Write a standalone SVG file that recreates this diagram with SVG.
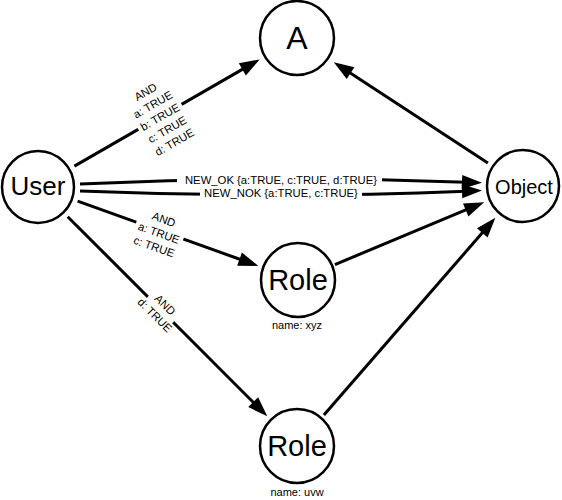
<svg xmlns="http://www.w3.org/2000/svg" width="562" height="500" viewBox="0 0 562 500">
<style>
  text { font-family: "Liberation Sans", Arial, sans-serif; fill: #000; text-anchor: middle; }
  .node circle { fill: #fff; stroke: #000; stroke-width: 2.5; }
  .edge { fill: none; stroke: #000; stroke-width: 3; }
  .lbl { font-size: 11.3px; }
  .bg { fill: #fff; stroke: none; }
  .name { font-size: 11px; }
</style>
<defs>
  <marker id="arr" markerUnits="userSpaceOnUse" markerWidth="20" markerHeight="14" refX="4" refY="7" orient="auto" overflow="visible">
    <path d="M0,0 L20,7 L0,14 z" fill="#000"/>
  </marker>
</defs>

<g id="connectors">
  <g id="e-user-a">
    <line class="edge" x1="74.4" y1="166.1" x2="245.8" y2="67.4" marker-end="url(#arr)"/>
    <g transform="translate(160,117) rotate(-29.9)">
      <rect class="bg" x="-25" y="-36" width="50" height="72"/>
      <text class="lbl" x="0" y="-25">AND</text>
      <text class="lbl" x="0" y="-10.5">a: TRUE</text>
      <text class="lbl" x="0" y="4">b: TRUE</text>
      <text class="lbl" x="0" y="18.5">c: TRUE</text>
      <text class="lbl" x="0" y="33">d: TRUE</text>
    </g>
  </g>
  <g id="e-user-object-ok">
    <path class="edge" d="M80,184 Q273,175 466,182.2" marker-end="url(#arr)"/>
    <rect class="bg" x="177" y="174" width="205" height="12"/>
    <text class="lbl" x="281" y="184">NEW_OK {a:TRUE, c:TRUE, d:TRUE}</text>
  </g>
  <g id="e-user-object-nok">
    <path class="edge" d="M80,191 Q273,199 466,191.2" marker-end="url(#arr)"/>
    <rect class="bg" x="200" y="188" width="162" height="12"/>
    <text class="lbl" x="281" y="197">NEW_NOK {a:TRUE, c:TRUE}</text>
  </g>
  <g id="e-user-role1">
    <line class="edge" x1="77.6" y1="201.1" x2="243.3" y2="260.5" marker-end="url(#arr)"/>
    <g transform="translate(159,233) rotate(19.7)">
      <rect class="bg" x="-25" y="-22" width="50" height="44"/>
      <text class="lbl" x="0" y="-10.5">AND</text>
      <text class="lbl" x="0" y="4">a: TRUE</text>
      <text class="lbl" x="0" y="18.5">c: TRUE</text>
    </g>
  </g>
  <g id="e-user-role2">
    <line class="edge" x1="67.7" y1="216.7" x2="256" y2="405" marker-end="url(#arr)"/>
    <g transform="translate(160,310) rotate(45)">
      <rect class="bg" x="-18" y="-15" width="36" height="30"/>
      <text class="lbl" x="0" y="-3.25">AND</text>
      <text class="lbl" x="0" y="11.25">d: TRUE</text>
    </g>
  </g>
  <line id="e-role1-object" class="edge" x1="334.9" y1="264.6" x2="469.4" y2="208.4" marker-end="url(#arr)"/>
  <line id="e-role2-object" class="edge" x1="323.9" y1="415.1" x2="484.9" y2="229.8" marker-end="url(#arr)"/>
  <line id="e-object-a" class="edge" x1="487.9" y1="163" x2="347.2" y2="70.9" marker-end="url(#arr)"/>
</g>

<g id="node-user" class="node">
  <circle cx="38" cy="187" r="36"/>
  <text x="38" y="195" font-size="26">User</text>
</g>
<g id="node-a" class="node">
  <circle cx="297" cy="38" r="37"/>
  <text x="297" y="48.5" font-size="32">A</text>
</g>
<g id="node-object" class="node">
  <circle cx="523" cy="186" r="36"/>
  <text x="524" y="194" font-size="20">Object</text>
</g>
<g id="node-role-xyz" class="node">
  <circle cx="298" cy="280" r="37"/>
  <text x="298" y="290" font-size="29">Role</text>
  <text class="name" x="297" y="329">name: xyz</text>
</g>
<g id="node-role-uvw" class="node">
  <circle cx="297" cy="446" r="37"/>
  <text x="297" y="456" font-size="29">Role</text>
  <text class="name" x="297" y="496">name: uvw</text>
</g>
</svg>
